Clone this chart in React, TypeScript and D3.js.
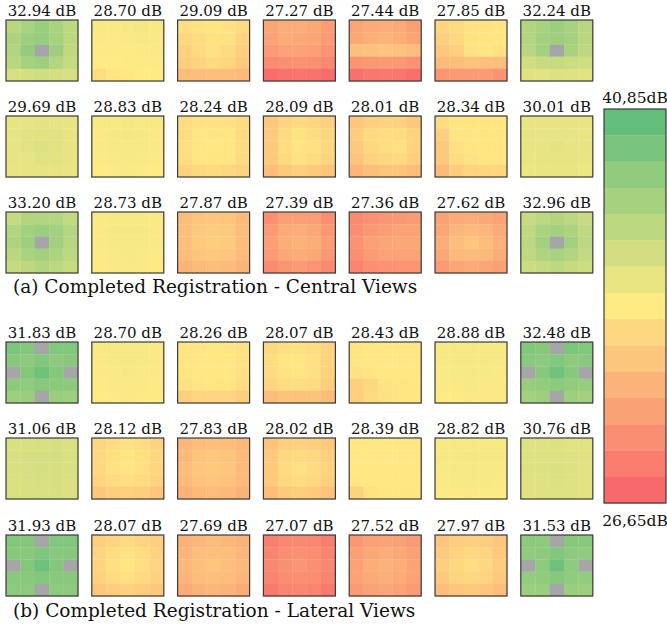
import React from "react";
import * as d3 from "d3";

// ---------- DATA ----------
const scaleMin = 26.65;
const scaleMax = 40.85;
const scaleLabels = ["40,85dB", "26,65dB"];
const captions = [
  "(a) Completed Registration - Central Views",
  "(b) Completed Registration - Lateral Views",
];

const titlesRow1 = [32.94, 28.7, 29.09, 27.27, 27.44, 27.85, 32.24];
const titlesRow2 = [29.69, 28.83, 28.24, 28.09, 28.01, 28.34, 30.01];
const titlesRow3 = [33.2, 28.73, 27.87, 27.39, 27.36, 27.62, 32.96];
const titlesRow4 = [31.83, 28.7, 28.26, 28.07, 28.43, 28.88, 32.48];
const titlesRow5 = [31.06, 28.12, 27.83, 28.02, 28.39, 28.82, 30.76];
const titlesRow6 = [31.93, 28.07, 27.69, 27.07, 27.52, 27.97, 31.53];

type Cell = number | null;
const N = null;

const cellsRow1: Cell[][][] = [
  [[36.9,37.6,38.4,37.6,36.8],[37.5,38.2,38.5,37.8,36.8],[37.3,38.6,N,38.1,36.6],[36.9,37.8,38.2,37.2,36.4],[35.6,35.7,35.9,35.7,35.6]],
  [[34.1,34.0,34.1,34.2,34.1],[34.0,33.9,34.0,34.1,34.0],[33.9,33.9,33.9,34.0,34.0],[33.8,33.8,33.9,33.9,33.9],[33.0,33.5,33.6,33.7,33.8]],
  [[33.15,33.3,33.5,33.3,32.8],[32.7,33.0,33.3,33.2,32.5],[32.4,32.8,33.2,32.9,32.2],[32.2,32.5,32.8,32.6,31.9],[31.2,31.3,31.4,31.3,31.0]],
  [[30.0,30.4,30.3,30.1,29.5],[29.8,30.2,30.1,29.9,29.3],[29.3,29.8,29.8,29.6,29.0],[28.5,28.8,28.9,28.7,28.3],[26.9,27.2,27.3,27.2,26.8]],
  [[29.9,30.2,30.3,30.2,29.6],[30.1,30.5,30.7,30.4,29.9],[31.4,31.5,31.7,31.5,31.2],[29.0,29.2,29.3,29.2,28.9],[27.1,27.4,27.5,27.3,27.0]],
  [[32.6,32.8,33.2,33.3,33.4],[32.3,32.7,33.3,33.5,33.5],[31.8,32.2,33.2,33.4,33.3],[31.1,31.3,31.5,31.4,31.3],[29.0,29.3,29.4,29.3,29.0]],
  [[37.2,37.7,38.3,37.7,37.0],[37.2,37.9,38.1,37.8,36.9],[37.0,37.9,N,37.7,36.7],[35.9,36.2,36.4,36.1,35.9],[35.1,35.1,35.3,35.2,35.1]],
];

const cellsRow2: Cell[][][] = [
  [[34.9,34.9,35.0,34.9,34.8],[34.9,35.0,35.1,35.0,34.8],[34.9,35.1,35.3,35.1,34.9],[34.8,34.9,35.1,35.0,34.8],[34.7,34.8,34.9,34.8,34.7]],
  [[34.1,34.1,34.2,34.1,34.1],[34.0,34.1,34.2,34.1,34.0],[34.0,34.1,34.1,34.1,34.0],[33.9,34.0,34.1,34.0,33.9],[33.8,33.9,34.0,33.9,33.8]],
  [[33.0,33.2,33.2,33.2,32.8],[33.0,33.4,33.5,33.4,32.9],[33.1,33.5,33.6,33.5,33.0],[33.0,33.4,33.5,33.4,32.9],[32.4,32.7,32.9,32.7,32.4]],
  [[31.8,32.5,32.8,32.6,32.2],[31.9,32.9,33.3,33.0,32.6],[31.9,33.0,33.4,33.2,32.7],[31.9,32.9,33.3,33.0,32.5],[31.3,31.9,32.2,31.9,31.6]],
  [[31.7,32.2,32.4,32.3,31.8],[32.1,32.8,33.0,33.0,32.4],[31.9,32.7,33.0,33.2,32.4],[31.6,32.4,32.7,32.8,32.2],[30.8,31.4,31.6,31.6,31.3]],
  [[33.0,33.4,33.5,33.5,33.5],[32.2,33.4,33.5,33.5,33.5],[31.9,33.2,33.5,33.5,33.5],[31.9,33.0,33.3,33.4,33.4],[31.1,32.1,32.5,32.6,32.7]],
  [[34.7,34.8,34.8,34.8,34.7],[34.8,34.9,34.9,34.9,34.7],[34.8,34.9,35.0,34.9,34.8],[34.7,34.8,34.9,34.8,34.7],[34.6,34.7,34.7,34.7,34.6]],
];

const cellsRow3: Cell[][][] = [
  [[36.4,37.2,37.3,37.1,36.5],[37.2,37.9,38.3,37.9,37.1],[37.4,38.2,N,38.0,37.0],[36.9,37.6,38.0,37.5,36.8],[36.4,36.7,37.2,36.8,36.3]],
  [[34.0,34.1,34.1,34.1,34.0],[34.0,34.1,34.1,34.1,34.0],[34.0,34.1,34.1,34.1,34.0],[33.9,34.0,34.1,34.0,33.9],[33.9,34.0,34.0,34.0,33.9]],
  [[31.3,31.6,31.7,31.6,31.1],[31.4,31.9,32.0,31.9,31.2],[31.4,31.9,32.1,32.0,31.3],[31.3,31.7,31.9,31.7,31.1],[30.7,31.1,31.3,31.1,30.7]],
  [[28.7,29.6,29.6,29.5,28.7],[29.3,30.2,30.4,30.1,29.2],[29.6,30.4,30.7,30.4,29.5],[29.3,30.1,30.3,30.1,29.2],[28.5,29.0,29.3,29.0,28.5]],
  [[28.5,28.9,29.1,29.2,29.3],[28.6,29.2,29.5,29.8,29.8],[28.9,29.7,30.0,30.1,30.1],[28.7,29.3,29.8,29.8,29.8],[28.1,28.7,28.9,29.0,29.0]],
  [[29.7,30.2,30.3,30.1,29.8],[30.0,30.8,31.1,30.8,30.2],[30.4,31.3,31.7,31.3,30.7],[30.1,31.0,31.2,31.0,30.4],[29.4,30.0,30.2,30.0,29.7]],
  [[36.2,36.8,37.2,36.8,36.2],[36.6,37.6,37.9,37.5,36.6],[36.8,38.0,N,37.9,36.8],[36.6,37.4,37.7,37.3,36.5],[36.1,36.4,36.8,36.4,36.1]],
];

const cellsRow4: Cell[][][] = [
  [[39.6,39.3,N,39.5,39.5],[39.2,38.9,39.4,38.9,39.2],[N,39.4,40.3,39.4,N],[38.9,38.8,39.2,38.9,38.9],[38.2,38.4,N,38.4,38.2]],
  [[34.1,34.1,34.1,34.1,34.0],[34.0,34.1,34.1,34.1,34.0],[34.0,34.0,34.1,34.0,34.0],[33.9,34.0,34.0,34.0,33.9],[33.8,33.9,34.0,33.9,33.9]],
  [[33.4,33.5,33.6,33.5,33.2],[33.5,33.6,33.6,33.6,33.2],[33.5,33.6,33.6,33.6,33.2],[33.2,33.4,33.5,33.4,33.0],[32.2,32.5,32.5,32.5,32.1]],
  [[32.7,33.1,33.2,33.0,32.5],[33.0,33.4,33.5,33.2,32.5],[32.9,33.3,33.5,33.1,32.4],[32.5,33.0,33.0,32.8,32.1],[31.2,31.5,31.5,31.5,31.1]],
  [[33.5,33.6,33.6,33.6,33.6],[33.5,33.6,33.6,33.6,33.6],[33.2,33.5,33.6,33.6,33.6],[32.2,32.7,33.3,33.5,33.5],[32.2,32.8,33.2,33.4,33.5]],
  [[34.1,34.1,34.1,34.1,34.1],[34.1,34.1,34.1,34.1,34.1],[34.0,34.1,34.1,34.1,34.0],[34.0,34.0,34.1,34.0,34.0],[33.8,33.9,34.0,34.0,34.0]],
  [[39.5,39.2,N,39.6,39.5],[39.1,38.9,39.5,38.9,39.1],[N,39.2,40.2,39.2,N],[38.5,38.6,38.9,38.6,38.5],[37.9,38.2,N,38.2,37.9]],
];

const cellsRow5: Cell[][][] = [
  [[35.5,35.5,35.6,35.5,35.4],[35.5,35.6,35.6,35.6,35.4],[35.5,35.6,35.7,35.6,35.5],[35.4,35.5,35.6,35.5,35.4],[35.4,35.5,35.5,35.5,35.4]],
  [[32.6,33.0,33.2,33.0,32.5],[32.7,33.1,33.4,33.1,32.7],[32.7,33.2,33.5,33.2,32.6],[32.5,32.9,33.1,32.9,32.4],[31.7,32.1,32.2,32.1,31.7]],
  [[30.9,31.3,31.4,31.3,30.9],[31.1,31.6,31.8,31.6,31.1],[31.2,31.7,31.9,31.7,31.1],[31.1,31.5,31.7,31.5,31.0],[30.6,31.0,31.2,31.0,30.6]],
  [[31.5,32.2,32.4,32.2,31.9],[31.9,32.7,32.9,32.7,32.2],[31.9,32.8,33.2,32.9,32.4],[31.9,32.7,33.0,32.7,32.2],[31.3,31.9,32.1,31.9,31.5]],
  [[33.6,33.6,33.6,33.6,33.6],[33.6,33.6,33.6,33.6,33.6],[33.6,33.6,33.6,33.6,33.6],[33.4,33.6,33.6,33.6,33.6],[32.4,33.3,33.5,33.5,33.4]],
  [[34.1,34.1,34.1,34.1,34.1],[34.1,34.1,34.2,34.1,34.1],[34.1,34.1,34.1,34.1,34.1],[34.0,34.1,34.1,34.1,34.0],[33.9,33.9,34.0,33.9,33.9]],
  [[35.2,35.2,35.3,35.1,35.1],[35.2,35.3,35.3,35.2,35.1],[35.2,35.3,35.4,35.3,35.1],[35.1,35.2,35.3,35.2,35.1],[35.1,35.2,35.2,35.2,35.0]],
];

const cellsRow6: Cell[][][] = [
  [[39.5,39.3,N,39.5,39.5],[39.2,39.1,39.6,39.1,39.2],[N,39.4,40.4,39.4,N],[39.1,39.1,39.5,39.1,39.1],[38.9,38.9,N,38.9,38.9]],
  [[32.2,32.5,32.8,32.5,32.2],[32.5,33.0,33.3,33.0,32.4],[32.5,33.1,33.5,33.1,32.5],[32.4,32.9,33.2,32.9,32.4],[31.8,32.1,32.4,32.1,31.8]],
  [[30.7,30.9,31.2,30.9,30.6],[30.8,31.3,31.4,31.3,30.8],[31.0,31.4,31.6,31.4,31.0],[30.8,31.3,31.4,31.3,30.8],[30.2,30.7,30.8,30.7,30.2]],
  [[27.8,28.3,28.4,28.3,27.8],[28.1,28.6,28.8,28.6,28.1],[28.3,28.8,29.1,28.8,28.3],[28.1,28.6,28.8,28.6,28.1],[27.5,28.1,28.3,28.1,27.5]],
  [[29.2,29.7,29.8,29.7,29.3],[29.6,30.1,30.3,30.1,29.7],[29.8,30.4,30.7,30.4,29.8],[29.8,30.2,30.5,30.2,29.8],[29.3,29.8,30.0,29.8,29.3]],
  [[31.7,32.1,32.2,32.1,31.7],[32.0,32.5,32.7,32.5,31.9],[32.2,32.7,33.0,32.7,32.1],[31.9,32.5,32.7,32.5,31.9],[31.3,31.7,31.9,31.7,31.3]],
  [[38.9,38.9,N,39.2,39.1],[38.8,38.9,39.5,38.9,38.8],[N,39.0,40.4,39.0,N],[38.7,38.8,39.2,38.8,38.7],[38.2,38.4,N,38.4,38.2]],
];

const rowTitles = [titlesRow1, titlesRow2, titlesRow3, titlesRow4, titlesRow5, titlesRow6];
const rowCells = [cellsRow1, cellsRow2, cellsRow3, cellsRow4, cellsRow5, cellsRow6];

// ---------- LAYOUT ----------
const W = 667;
const H = 626;
const tileW = 72;
const tileH = 61;
const colX0 = 6;
const colPitch = 85.8;
const rowTops = [20, 116, 212, 342, 438, 535];
const captionY = [293, 617];
const FONT = "'DejaVu Serif', serif";
const MISSING = "#a6a6a6";
const BORDER = "#3a3a3a";

const color = d3
  .scaleLinear<string>()
  .domain([scaleMin, (scaleMin + scaleMax) / 2, scaleMax])
  .range(["#F8696B", "#FFEB84", "#63BE7B"])
  .interpolate(d3.interpolateRgb)
  .clamp(true);

const nBands = 15;
const bandValues = d3.range(nBands).map(
  (i) => scaleMax - (i * (scaleMax - scaleMin)) / (nBands - 1)
);

const cbX = 604;
const cbW = 62;
const cbTop = 109;
const cbBottom = 503;

export default function App() {
  const cx = d3.scaleBand<number>().domain(d3.range(5)).range([0, tileW]);
  const cy = d3.scaleBand<number>().domain(d3.range(5)).range([0, tileH]);
  const cbY = d3.scaleBand<number>().domain(d3.range(nBands)).range([cbTop, cbBottom]);

  return (
    <svg
      width={W}
      height={H}
      style={{ position: "absolute", left: 0, top: 0, background: "#fff" }}
      fontFamily={FONT}
    >
      <rect width={W} height={H} fill="#fff" />
      {rowCells.map((tiles, r) =>
        tiles.map((grid, c) => {
          const x = colX0 + c * colPitch;
          const y = rowTops[r];
          return (
            <g key={`${r}-${c}`} transform={`translate(${x},${y})`}>
              <text
                x={tileW / 2}
                y={-4}
                textAnchor="middle"
                fontSize={15}
                fill="#111"
              >
                {rowTitles[r][c].toFixed(2)} dB
              </text>
              {grid.map((row, i) =>
                row.map((v, j) => (
                  <rect
                    key={`${i}-${j}`}
                    x={cx(j)}
                    y={cy(i)}
                    width={cx.bandwidth() + 0.3}
                    height={cy.bandwidth() + 0.3}
                    fill={v === null ? MISSING : color(v)}
                  />
                ))
              )}
              <rect
                x={0}
                y={0}
                width={tileW}
                height={tileH}
                fill="none"
                stroke={BORDER}
                strokeWidth={1.2}
              />
            </g>
          );
        })
      )}
      {captions.map((t, i) => (
        <text key={i} x={13} y={captionY[i]} fontSize={18.5} fill="#111">
          {t}
        </text>
      ))}
      {bandValues.map((v, i) => (
        <rect
          key={i}
          x={cbX}
          y={cbY(i)}
          width={cbW}
          height={cbY.bandwidth() + 0.3}
          fill={color(v)}
        />
      ))}
      <rect
        x={cbX}
        y={cbTop}
        width={cbW}
        height={cbBottom - cbTop}
        fill="none"
        stroke={BORDER}
        strokeWidth={1.2}
      />
      <text x={cbX + cbW / 2} y={cbTop - 6} textAnchor="middle" fontSize={15.5} fill="#111">
        {scaleLabels[0]}
      </text>
      <text x={cbX + cbW / 2} y={cbBottom + 23} textAnchor="middle" fontSize={15.5} fill="#111">
        {scaleLabels[1]}
      </text>
    </svg>
  );
}
